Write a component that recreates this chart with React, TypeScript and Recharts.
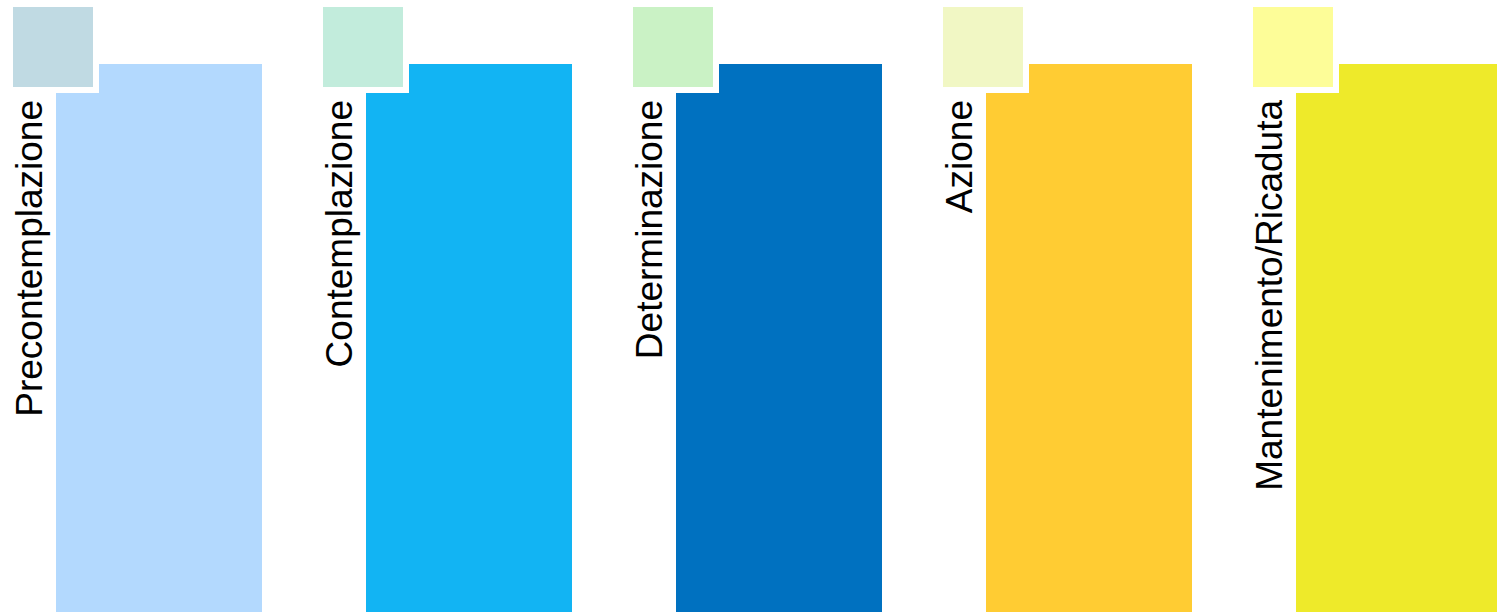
import React from "react";
import { BarChart, Bar, XAxis, YAxis, Cell } from "recharts";

const stages = [
  "Precontemplazione",
  "Contemplazione",
  "Determinazione",
  "Azione",
  "Mantenimento/Ricaduta",
];
const stageValues = [100, 100, 100, 100, 100];
const barColors = ["#B3D9FE", "#12B4F3", "#0071C0", "#FFCC33", "#EEEA2A"];
const squareColors = ["#C0DAE3", "#C2ECDC", "#CAF2C5", "#F1F7C4", "#FDFD98"];

const data = stages.map((name, i) => ({
  name,
  value: stageValues[i],
  color: barColors[i],
  square: squareColors[i],
}));

const StageShape = (props: any) => {
  const { x, y, width, height, payload } = props;
  return (
    <g>
      <rect x={x} y={y} width={width} height={height} fill={payload.color} />
      <rect x={x - 48} y={y - 62} width={91} height={91} fill="#FFFFFF" />
      <rect x={x - 43} y={y - 57} width={80} height={80} fill={payload.square} />
      <text
        x={x - 14}
        y={y + 36}
        transform={`rotate(-90, ${x - 14}, ${y + 36})`}
        textAnchor="end"
        fontFamily="'Liberation Sans', Arial, sans-serif"
        fontSize={37}
        fill="#000000"
      >
        {payload.name}
      </text>
    </g>
  );
};

export default function App() {
  return (
    <div
      style={{
        position: "absolute",
        left: 0,
        top: 0,
        width: 1497,
        height: 616,
        overflow: "hidden",
        background: "#FFFFFF",
      }}
    >
      <BarChart
        width={1560}
        height={616}
        data={data}
        margin={{ top: 64, left: 4, right: 6, bottom: 4 }}
      >
        <XAxis dataKey="name" hide />
        <YAxis hide domain={[0, 100]} />
        <Bar
          dataKey="value"
          barSize={206}
          isAnimationActive={false}
          shape={<StageShape />}
        >
          {data.map((d, i) => (
            <Cell key={i} fill={d.color} />
          ))}
        </Bar>
      </BarChart>
    </div>
  );
}
